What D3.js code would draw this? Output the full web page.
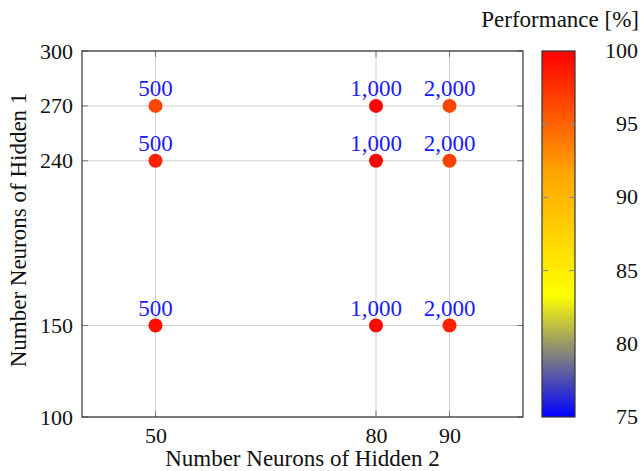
<!DOCTYPE html>
<html>
<head>
<meta charset="utf-8">
<script src="https://cdn.jsdelivr.net/npm/d3@7"></script>
<style>
  body { margin: 0; background: #fff; }
</style>
</head>
<body>
<div id="chart"></div>
<script>
// data
const hidden2 = [50, 50, 50, 80, 80, 80, 90, 90, 90];
const hidden1 = [270, 240, 150, 270, 240, 150, 270, 240, 150];
const performance = [96.5, 98.3, 99.3, 99.9, 99.8, 99.6, 96.6, 96.7, 98.4];
const labels = ['500', '500', '500', '1,000', '1,000', '1,000', '2,000', '2,000', '2,000'];
const xTicks = [50, 80, 90];
const yTicks = [100, 150, 240, 270, 300];
const cTicks = [75, 80, 85, 90, 95, 100];

const W = 642, H = 471;
const plot = { left: 82, right: 523, top: 51, bottom: 417 };
const serif = 'Liberation Serif, serif';

const svg = d3.select('#chart').append('svg')
    .attr('width', W)
    .attr('height', H);

const x = d3.scaleLinear().domain([40, 100]).range([plot.left, plot.right]);
const y = d3.scaleLinear().domain([100, 300]).range([plot.bottom, plot.top]);

// pgfplots "hot" colormap: blue, yellow, orange, red
const color = d3.scaleLinear()
    .domain([75, 75 + 25 / 3, 75 + 50 / 3, 100])
    .range(['#0000ff', '#ffff00', '#ffa500', '#ff0000']);

// grid
svg.append('g').selectAll('line').data(xTicks).enter().append('line')
    .attr('x1', d => x(d)).attr('x2', d => x(d))
    .attr('y1', plot.top).attr('y2', plot.bottom)
    .attr('stroke', '#d0d0d0').attr('stroke-width', 1);
svg.append('g').selectAll('line').data(yTicks).enter().append('line')
    .attr('y1', d => y(d)).attr('y2', d => y(d))
    .attr('x1', plot.left).attr('x2', plot.right)
    .attr('stroke', '#d0d0d0').attr('stroke-width', 1);

// axes
const xAxis = svg.append('g')
    .attr('transform', 'translate(0,' + plot.bottom + ')')
    .call(d3.axisBottom(x).tickValues(xTicks).tickSize(0).tickPadding(10));
const yAxis = svg.append('g')
    .attr('transform', 'translate(' + plot.left + ',0)')
    .call(d3.axisLeft(y).tickValues(yTicks).tickSize(0).tickPadding(9));
[xAxis, yAxis].forEach(g => {
    g.select('.domain').remove();
    g.selectAll('text')
        .attr('fill', '#111')
        .style('font-family', serif)
        .style('font-size', '22px');
});

// small inner ticks on both sides
const tickLen = 6;
svg.append('g').selectAll('path').data(xTicks).enter().append('path')
    .attr('d', d => 'M' + x(d) + ',' + plot.bottom + 'v' + (-tickLen) +
         'M' + x(d) + ',' + plot.top + 'v' + tickLen)
    .attr('stroke', '#777').attr('stroke-width', 1);
svg.append('g').selectAll('path').data(yTicks).enter().append('path')
    .attr('d', d => 'M' + plot.left + ',' + y(d) + 'h' + tickLen +
        'M' + plot.right + ',' + y(d) + 'h' + (-tickLen))
    .attr('stroke', '#777').attr('stroke-width', 1);

// frame
svg.append('rect')
    .attr('x', plot.left).attr('y', plot.top)
    .attr('width', plot.right - plot.left)
    .attr('height', plot.bottom - plot.top)
    .attr('fill', 'none')
    .attr('stroke', '#333')
    .attr('stroke-width', 1.2);

// points
const pts = hidden2.map((d, i) => ({ x: d, y: hidden1[i], v: performance[i], label: labels[i] }));
svg.append('g').selectAll('circle').data(pts).enter().append('circle')
    .attr('cx', d => x(d.x))
    .attr('cy', d => y(d.y))
    .attr('r', 7)
    .attr('fill', d => color(d.v));

svg.append('g').selectAll('text').data(pts).enter().append('text')
    .attr('x', d => x(d.x))
    .attr('y', d => y(d.y) - 10)
    .attr('text-anchor', 'middle')
    .attr('fill', '#1a1aff')
    .style('font-family', serif)
    .style('font-size', '23px')
    .text(d => d.label);

// axis titles
svg.append('text')
    .attr('x', (plot.left + plot.right) / 2)
    .attr('y', 466)
    .attr('text-anchor', 'middle')
    .attr('fill', '#111')
    .style('font-family', serif)
    .style('font-size', '23px')
    .text('Number Neurons of Hidden 2');

svg.append('text')
    .attr('transform', 'rotate(-90)')
    .attr('x', -230)
    .attr('y', 26)
    .attr('text-anchor', 'middle')
    .attr('fill', '#111')
    .style('font-family', serif)
    .style('font-size', '23px')
    .text('Number Neurons of Hidden 1');

// colorbar
const cb = { left: 542, right: 575 };
const c = d3.scaleLinear().domain([75, 100]).range([plot.bottom, plot.top]);

const grad = svg.append('defs').append('linearGradient')
    .attr('id', 'hot')
    .attr('x1', 0).attr('y1', 1).attr('x2', 0).attr('y2', 0);
color.domain().forEach(d => {
    grad.append('stop')
        .attr('offset', (d - 75) / 25)
        .attr('stop-color', color(d));
});

svg.append('rect')
    .attr('x', cb.left).attr('y', plot.top)
    .attr('width', cb.right - cb.left)
    .attr('height', plot.bottom - plot.top)
    .attr('fill', 'url(#hot)')
    .attr('stroke', '#333')
    .attr('stroke-width', 1.2);

svg.append('g').selectAll('path').data(cTicks.slice(1, -1)).enter().append('path')
    .attr('d', d => 'M' + cb.left + ',' + c(d) + 'h' + tickLen +
        'M' + cb.right + ',' + c(d) + 'h' + (-tickLen))
    .attr('stroke', '#888').attr('stroke-width', 1);

svg.append('g').selectAll('text').data(cTicks).enter().append('text')
    .attr('x', 638)
    .attr('y', d => c(d) + 7)
    .attr('text-anchor', 'end')
    .attr('fill', '#111')
    .style('font-family', serif)
    .style('font-size', '22px')
    .text(d => d);

svg.append('text')
    .attr('x', 639)
    .attr('y', 27)
    .attr('text-anchor', 'end')
    .attr('fill', '#111')
    .style('font-family', serif)
    .style('font-size', '23px')
    .text('Performance [%]');
</script>
</body>
</html>
